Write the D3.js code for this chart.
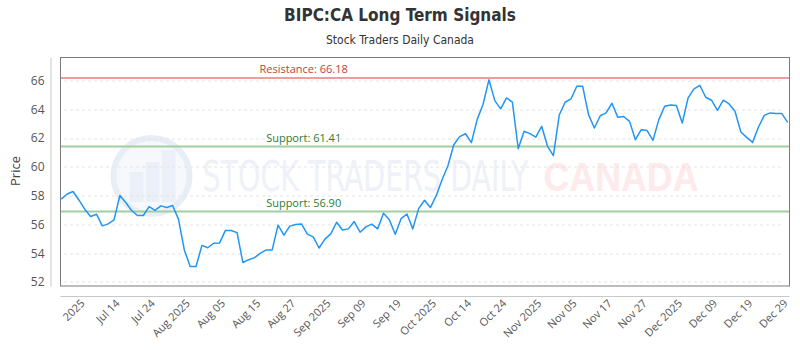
<!DOCTYPE html>
<html>
<head>
<meta charset="utf-8">
<script src="https://cdn.jsdelivr.net/npm/d3@7"></script>
<style>
  body { margin: 0; background: #fff; }
  #chart { width: 800px; height: 350px; }
</style>
</head>
<body>
<div id="chart"></div>
<script>
// Daily closes, one per trading session (Jul - Dec 2025)
const prices = [
    57.76, 58.11, 58.29, 57.70, 57.06, 56.55, 56.71, 55.90, 56.04, 56.32,
    58.01, 57.52, 56.97, 56.62, 56.62, 57.24, 56.97, 57.29, 57.17, 57.31,
    56.37, 54.23, 53.07, 53.07, 54.54, 54.38, 54.69, 54.70, 55.57, 55.58,
    55.43, 53.35, 53.55, 53.69, 54.00, 54.23, 54.23, 55.95, 55.25, 55.88,
    56.00, 56.03, 55.33, 55.13, 54.36, 54.98, 55.34, 56.15, 55.61, 55.69,
    56.20, 55.46, 55.83, 56.02, 55.69, 56.78, 56.32, 55.32, 56.40, 56.72,
    55.69, 57.10, 57.68, 57.17, 58.00, 59.10, 60.08, 61.54, 62.10, 62.30,
    61.68, 63.30, 64.35, 66.05, 64.60, 64.03, 64.79, 64.50, 61.26, 62.47,
    62.31, 62.06, 62.82, 61.43, 60.78, 63.60, 64.49, 64.72, 65.60, 65.60,
    63.63, 62.70, 63.55, 63.75, 64.42, 63.44, 63.50, 63.16, 61.89, 62.58,
    62.52, 61.84, 63.28, 64.21, 64.30, 64.26, 63.05, 64.79, 65.42, 65.67,
    64.84, 64.63, 63.93, 64.63, 64.37, 63.86, 62.42, 62.05, 61.70, 62.75,
    63.58, 63.75, 63.70, 63.70, 63.09
];

// Labelled sessions on the x axis
const tickIndex = [3, 9, 15, 21, 27, 33, 39, 45, 51, 57, 63, 69, 75, 81, 87, 93, 99, 105, 111, 117, 123];
const tickLabels = [
    "2025", "Jul 14", "Jul 24", "Aug 2025", "Aug 05", "Aug 15", "Aug 27",
    "Sep 2025", "Sep 09", "Sep 19", "Oct 2025", "Oct 14", "Oct 24",
    "Nov 2025", "Nov 05", "Nov 17", "Nov 27", "Dec 2025", "Dec 09", "Dec 19", "Dec 29"
];

const yTicks = [52, 54, 56, 58, 60, 62, 64, 66];
const resistance = [66.18];
const supports = [61.41, 56.90];

function createChart() {
    const margin = { top: 57.5, right: 10, bottom: 64, left: 60.5 };
    const width = 800 - margin.left - margin.right;
    const height = 350 - margin.top - margin.bottom;

    const svg = d3.select("#chart")
        .append("svg")
        .attr("width", 800)
        .attr("height", 350)
        .style("font-family", "'Open Sans', sans-serif");

    // Title block
    svg.append("text")
        .attr("x", 400)
        .attr("y", 21)
        .attr("text-anchor", "middle")
        .style("font-family", "'Liberation Sans Narrow', 'DejaVu Sans Condensed', sans-serif")
        .style("font-weight", "bold")
        .style("font-size", "17px")
        .attr("fill", "#333")
        .text("BIPC:CA Long Term Signals");

    svg.append("text")
        .attr("x", 400)
        .attr("y", 44)
        .attr("text-anchor", "middle")
        .style("font-family", "'Liberation Sans Narrow', 'DejaVu Sans Condensed', sans-serif")
        .style("font-size", "12px")
        .attr("fill", "#333")
        .text("Stock Traders Daily Canada");

    const g = svg.append("g")
        .attr("transform", "translate(" + margin.left + "," + margin.top + ")");

    // Scales
    const xScale = d3.scaleLinear()
        .domain([0, prices.length - 1])
        .range([0.8, width - 2.3]);

    const yScale = d3.scaleLinear()
        .domain([51.72, 67.6])
        .range([height, 0]);

    // Watermark (logo + faded wordmark)
    const wm = g.append("g").attr("pointer-events", "none");
    wm.append("circle")
        .attr("cx", 91).attr("cy", 118.5).attr("r", 38)
        .attr("fill", "#f6f8fc")
        .attr("stroke", "#e8edf6")
        .attr("stroke-width", 6);
    [[-22, 14, 30], [-6, 14, 40], [10, 14, 52]].forEach(b => {
        wm.append("rect")
            .attr("x", 91 + b[0]).attr("y", 118.5 + 26 - b[2])
            .attr("width", b[1]).attr("height", b[2])
            .attr("fill", "#ebeff7");
    });
    wm.append("text")
        .attr("x", 142).attr("y", 133)
        .attr("textLength", 326)
        .attr("lengthAdjust", "spacingAndGlyphs")
        .style("font-family", "'Liberation Sans Narrow', 'DejaVu Sans Condensed', sans-serif")
        .style("font-size", "43px")
        .attr("fill", "#eef1f7")
        .text("STOCK TRADERS DAILY");
    wm.append("text")
        .attr("x", 483).attr("y", 133)
        .attr("textLength", 155)
        .attr("lengthAdjust", "spacingAndGlyphs")
        .style("font-family", "'Liberation Sans', sans-serif")
        .style("font-weight", "bold")
        .style("font-size", "40px")
        .attr("fill", "#feeaea")
        .text("CANADA");

    // Grid lines
    g.append("g")
        .selectAll("line")
        .data(yTicks)
        .enter().append("line")
        .attr("x1", 3.5)
        .attr("x2", width - 7)
        .attr("y1", d => Math.round(yScale(d)) + 0.5)
        .attr("y2", d => Math.round(yScale(d)) + 0.5)
        .attr("stroke", "#e3e3e3")
        .attr("stroke-dasharray", "3,3");

    // Resistance and support levels
    const levels = resistance.map(v => ({ v, name: "Resistance", line: "#f19c9c", txt: "#c43c3c" }))
        .concat(supports.map(v => ({ v, name: "Support", line: "#9fd09f", txt: "#2e7d32" })));

    g.selectAll(".level")
        .data(levels)
        .enter().append("line")
        .attr("class", "level")
        .attr("x1", 0)
        .attr("x2", width)
        .attr("y1", d => yScale(d.v))
        .attr("y2", d => yScale(d.v))
        .attr("stroke", d => d.line)
        .attr("stroke-width", 2);

    g.selectAll(".level-label")
        .data(levels)
        .enter().append("text")
        .attr("class", "level-label")
        .attr("x", width / 3)
        .attr("y", d => yScale(d.v) - 4.5)
        .attr("text-anchor", "middle")
        .style("font-size", "11px")
        .attr("fill", d => d.txt)
        .text(d => d.name + ": " + d.v.toFixed(2));

    // Price line
    const line = d3.line()
        .x((d, i) => xScale(i))
        .y(d => yScale(d));

    g.append("path")
        .datum(prices)
        .attr("d", line)
        .attr("fill", "none")
        .attr("stroke", "#2196f3")
        .attr("stroke-width", 1.5)
        .attr("stroke-linejoin", "round");

    // Plot frame
    g.append("rect")
        .attr("x", 0)
        .attr("y", 0)
        .attr("width", width - 0.5)
        .attr("height", height)
        .attr("fill", "none")
        .attr("stroke", "#7a7a7a")
        .attr("stroke-width", 1);

    // Y axis (offset to the left of the frame)
    const yAxis = g.append("g")
        .attr("transform", "translate(-10,0)")
        .call(d3.axisLeft(yScale).tickValues(yTicks).tickSize(0).tickPadding(6));
    yAxis.select(".domain").attr("stroke", "#c8c8c8");
    yAxis.selectAll("text")
        .style("font-size", "12px")
        .style("font-family", "'Open Sans', sans-serif")
        .attr("fill", "#555");

    // X axis (offset below the frame)
    const xAxis = g.append("g")
        .attr("transform", "translate(0," + (height + 10) + ")")
        .call(d3.axisBottom(xScale)
            .tickValues(tickIndex)
            .tickFormat((d, i) => tickLabels[i])
            .tickSize(0));
    xAxis.select(".domain").remove();
    xAxis.append("line")
        .attr("x1", 0)
        .attr("x2", width - 0.5)
        .attr("y1", 0.5)
        .attr("y2", 0.5)
        .attr("stroke", "#c8c8c8");
    xAxis.selectAll(".tick text")
        .attr("text-anchor", "end")
        .attr("dy", 0)
        .attr("y", 0)
        .attr("transform", "translate(6,8) rotate(-45)")
        .style("font-size", "11px")
        .style("font-family", "'Open Sans', sans-serif")
        .attr("fill", "#555");

    // Y axis title
    svg.append("text")
        .attr("transform", "rotate(-90)")
        .attr("x", -171)
        .attr("y", 20)
        .attr("text-anchor", "middle")
        .style("font-size", "13px")
        .attr("fill", "#444")
        .text("Price");
}

createChart();
</script>
</body>
</html>
